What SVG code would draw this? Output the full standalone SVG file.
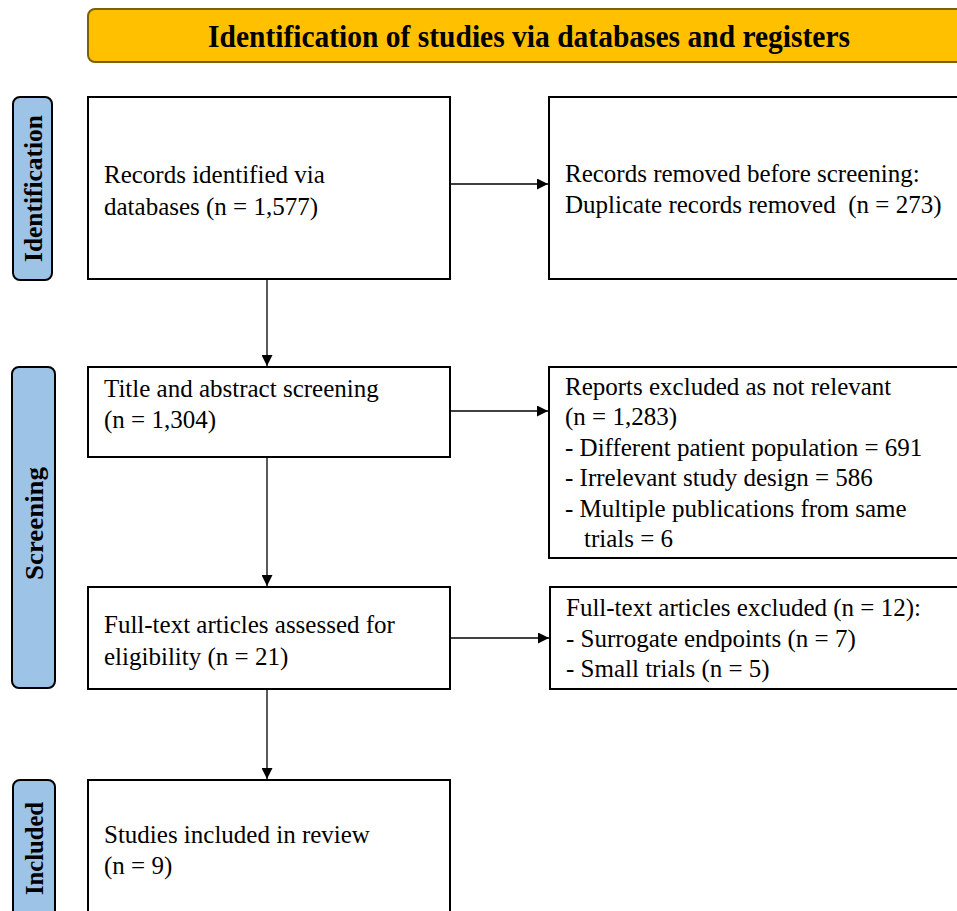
<svg xmlns="http://www.w3.org/2000/svg" width="957" height="911" viewBox="0 0 957 911">
<style>
.box{fill:#fff;stroke:#000;stroke-width:2}
.side{fill:#9DC3E6;stroke:#000;stroke-width:2}
.t{font-family:"Liberation Serif","Times New Roman",serif;font-size:25px;fill:#000;white-space:pre}
.lab{font-family:"Liberation Serif","Times New Roman",serif;font-size:25px;font-weight:bold;fill:#000}
.hdr{font-family:"Liberation Serif","Times New Roman",serif;font-size:32px;font-weight:bold;fill:#000}
.c{stroke:#000;stroke-width:1.3;fill:none;marker-end:url(#ah)}
</style>
<defs>
<marker id="ah" viewBox="0 0 10 10" refX="10" refY="5" markerWidth="11" markerHeight="11" markerUnits="userSpaceOnUse" orient="auto">
<path d="M0,0 L10,5 L0,10 z" fill="#000"/>
</marker>
</defs>
<rect width="957" height="911" fill="#fff"/>
<g id="header">
<rect x="88" y="9" width="900" height="53" rx="7" fill="#FFC000" stroke="#7F6000" stroke-width="2"/>
<text class="hdr" x="208" y="47" textLength="642" lengthAdjust="spacingAndGlyphs">Identification of studies via databases and registers</text>
</g>
<g id="side-identification">
<rect class="side" x="13" y="97" width="39" height="183" rx="7"/>
<text class="lab" transform="translate(42,262) rotate(-90)" textLength="147" lengthAdjust="spacingAndGlyphs">Identification</text>
</g>
<g id="side-screening">
<rect class="side" x="12" y="367" width="43" height="321" rx="7"/>
<text class="lab" transform="translate(43,580) rotate(-90)" textLength="113" lengthAdjust="spacingAndGlyphs">Screening</text>
</g>
<g id="side-included">
<rect class="side" x="13" y="780" width="42" height="150" rx="7"/>
<text class="lab" transform="translate(43,895) rotate(-90)" textLength="93" lengthAdjust="spacingAndGlyphs">Included</text>
</g>
<g id="n-identified">
<rect class="box" x="88" y="97" width="362" height="182"/>
<text class="t" x="104" y="183">Records identified via</text>
<text class="t" x="104" y="215">databases (n = 1,577)</text>
</g>
<g id="n-removed">
<rect class="box" x="549" y="97" width="420" height="182"/>
<text class="t" x="565" y="182">Records removed before screening:</text>
<text class="t" x="565" y="213">Duplicate records removed  (n = 273)</text>
</g>
<g id="n-screening">
<rect class="box" x="88" y="367" width="362" height="90"/>
<text class="t" x="104" y="397">Title and abstract screening</text>
<text class="t" x="104" y="428">(n = 1,304)</text>
</g>
<g id="n-excluded1">
<rect class="box" x="549" y="367" width="420" height="191"/>
<text class="t" x="565" y="395">Reports excluded as not relevant</text>
<text class="t" x="565" y="425">(n = 1,283)</text>
<text class="t" x="565" y="456">- Different patient population = 691</text>
<text class="t" x="565" y="486">- Irrelevant study design = 586</text>
<text class="t" x="565" y="517">- Multiple publications from same</text>
<text class="t" x="584" y="547">trials = 6</text>
</g>
<g id="n-fulltext">
<rect class="box" x="88" y="587" width="362" height="102"/>
<text class="t" x="104" y="633">Full-text articles assessed for</text>
<text class="t" x="104" y="665">eligibility (n = 21)</text>
</g>
<g id="n-excluded2">
<rect class="box" x="550" y="587" width="420" height="102"/>
<text class="t" x="566" y="616">Full-text articles excluded (n = 12):</text>
<text class="t" x="566" y="647">- Surrogate endpoints (n = 7)</text>
<text class="t" x="566" y="677">- Small trials (n = 5)</text>
</g>
<g id="n-included">
<rect class="box" x="88" y="780" width="362" height="150"/>
<text class="t" x="104" y="843">Studies included in review</text>
<text class="t" x="104" y="874">(n = 9)</text>
</g>
<g id="connectors">
<line class="c" x1="450" y1="184" x2="548" y2="184"/>
<line class="c" x1="450" y1="411" x2="548" y2="411"/>
<line class="c" x1="450" y1="638" x2="549" y2="638"/>
<line class="c" x1="267" y1="279" x2="267" y2="366"/>
<line class="c" x1="267" y1="457" x2="267" y2="586"/>
<line class="c" x1="267" y1="689" x2="267" y2="779"/>
</g>
</svg>
